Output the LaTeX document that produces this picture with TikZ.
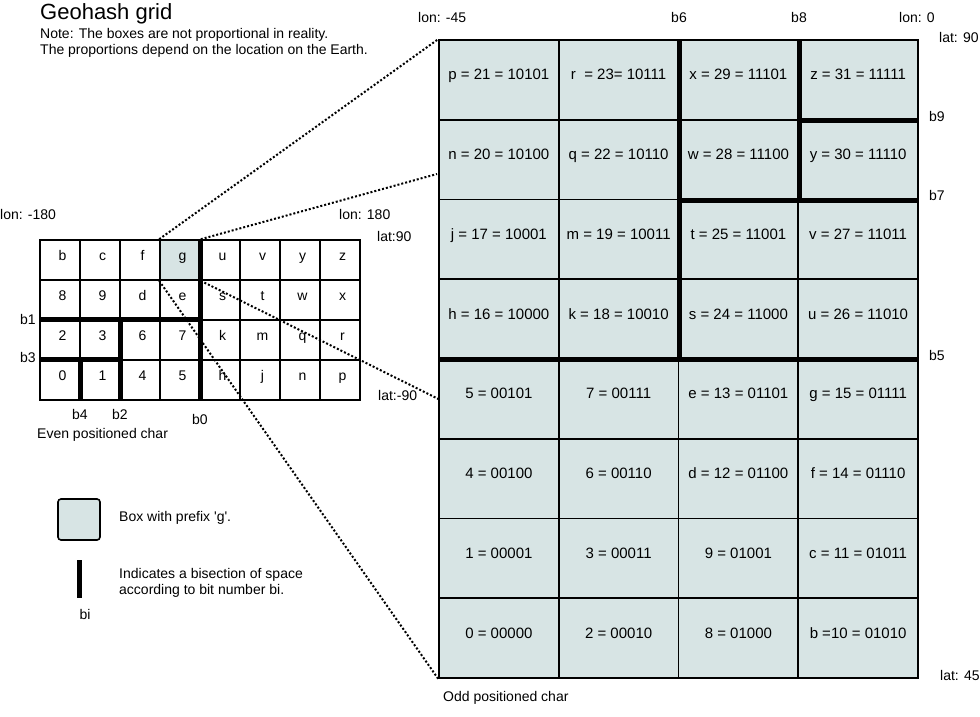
\documentclass[tikz,border=0pt]{standalone}
\usepackage{fontspec}
\newfontfamily\arial{Liberation Sans}
\definecolor{boxfill}{RGB}{215,228,228}
\begin{document}
\begin{tikzpicture}[x=1pt,y=-1pt,
  every node/.style={font=\arial\fontsize{14}{16}\selectfont, inner sep=0pt},
  lbl/.style={anchor=west},
  clbl/.style={anchor=center},
  smallcell/.style={draw, line width=1.6pt, minimum width=40pt, minimum height=40pt,
    text height=10pt, text depth=10pt},
  bigcell/.style={draw, fill=boxfill, line width=1.6pt, minimum width=119.75pt,
    minimum height=79.75pt, text height=10pt, text depth=10pt,
    font=\arial\fontsize{15}{17}\selectfont},
  cellS14/.style={fill=boxfill},
  thickline/.style={line width=5pt},
  dotline/.style={line width=2pt, dash pattern=on 2pt off 2pt}]
\useasboundingbox (0,0) rectangle (980,717);

% title and note
\node[anchor=base west, font=\arial\fontsize{22}{26}\selectfont] (title) at (40,20) {Geohash grid};
\node[anchor=base west] (note1) at (40,39) {Note: The boxes are not proportional in reality.};
\node[anchor=base west] (note2) at (40,55) {The proportions depend on the location on the Earth.};

% small grid (even positioned char)
\foreach \row [count=\r] in {{b,c,f,g,u,v,y,z},{8,9,d,e,s,t,w,x},{2,3,6,7,k,m,q,r},{0,1,4,5,h,j,n,p}} {
  \foreach \ch [count=\c] in \row {
    \node[smallcell, cellS\r\c/.try] (S\r\c) at ({20+40*\c},{220+40*\r}) {\hspace*{5pt}\ch};
  }
}
% small grid bisections
\draw[thickline] (S14.north east) -- (S44.south east);
\draw[thickline] (S31.north west) -- (S34.north east);
\draw[thickline] (S32.north east) -- (S42.south east);
\draw[thickline] (S41.north west) -- (S42.north east);
\draw[thickline] (S41.north east) -- (S41.south east);

% big grid (odd positioned char)
\foreach \row [count=\r] in {
  {p = 21 = 10101, r~ = 23= 10111, x = 29 = 11101, z = 31 = 11111},
  {n = 20 = 10100, q = 22 = 10110, w = 28 = 11100, y = 30 = 11110},
  {j = 17 = 10001, m = 19 = 10011, t = 25 = 11001, v = 27 = 11011},
  {h = 16 = 10000, k = 18 = 10010, s = 24 = 11000, u = 26 = 11010},
  {5 = 00101, 7 = 00111, e = 13 = 01101, g = 15 = 01111},
  {4 = 00100, 6 = 00110, d = 12 = 01100, f = 14 = 01110},
  {1 = 00001, 3 = 00011, 9 = 01001, c = 11 = 01011},
  {0 = 00000, 2 = 00010, 8 = 01000, b =10 = 01010}} {
  \foreach \txt [count=\c] in \row {
    \node[bigcell] (B\r\c) at ({439+119.75*(\c-0.5)},{40+79.75*(\r-0.5)}) {\txt};
  }
}
% big grid bisections
\draw[thickline] (B12.north east) -- (B42.south east);
\draw[thickline] (B13.north east) -- (B23.south east);
\draw[thickline] (B14.south west) -- (B14.south east);
\draw[thickline] (B23.south west) -- (B24.south east);
\draw[thickline] (B41.south west) -- (B44.south east);

% dotted zoom connectors
\coordinate (q1) at (437,174);
\draw[dotline] (S14.north west) -- (B11.north west);
\draw[dotline] (S14.north east) -- (q1);
\draw[dotline] (S14.south east) -- (B51.west);
\draw[dotline] (S14.south west) -- (B81.south west);

% small grid labels
\node[lbl] (lonm180) at (0,214) {lon: -180};
\node[lbl] (lon180) at (339,214) {lon: 180};
\node[lbl] (lat90s) at (377,236) {lat:90};
\node[lbl] (latm90s) at (378,395) {lat:-90};
\node[clbl] (b1) at (28,319) {b1};
\node[clbl] (b3) at (28,357) {b3};
\node[clbl] (b4) at (80,414) {b4};
\node[clbl] (b2) at (120,414) {b2};
\node[clbl] (b0) at (200,419) {b0};
\node[lbl] (even) at (37,435) {Even positioned char};

% big grid labels
\node[lbl] (lonm45) at (418,17) {lon: -45};
\node[clbl] (b6) at (679,17) {b6};
\node[clbl] (b8) at (799,17) {b8};
\node[clbl] (lon0) at (917,17) {lon: 0};
\node[lbl] (lat90b) at (939,37) {lat: 90};
\node[lbl] (b9) at (929,116) {b9};
\node[lbl] (b7) at (929,195) {b7};
\node[lbl] (b5) at (929,355) {b5};
\node[lbl] (lat45) at (940,675) {lat: 45};
\node[lbl] (odd) at (443,698) {Odd positioned char};

% legend
\node[draw, fill=boxfill, rounded corners=3pt, line width=1.6pt,
  minimum width=42pt, minimum height=41pt] (legbox) at (79,519.5) {};
\node[lbl] (legboxtxt) at (119,518) {Box with prefix 'g'.};
\node[fill=black, minimum width=5pt, minimum height=38pt] (legbar) at (79,579) {};
\node[lbl] (legbartxt1) at (119,575) {Indicates a bisection of space};
\node[lbl] (legbartxt2) at (119,591) {according to bit number bi.};
\node[clbl] (legbi) at (85,614) {bi};
\end{tikzpicture}
\end{document}
